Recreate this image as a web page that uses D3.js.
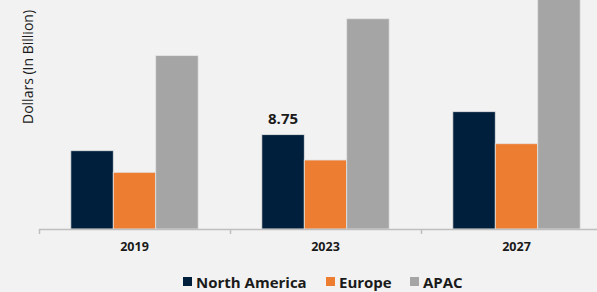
<!DOCTYPE html>
<html>
<head>
<meta charset="utf-8">
<script src="https://cdn.jsdelivr.net/npm/d3@7"></script>
<style>
  html, body { margin: 0; padding: 0; background: #f2f2f2; }
  svg { display: block; font-family: "Open Sans", sans-serif; }
</style>
</head>
<body>
<svg id="chart" width="597" height="292"></svg>
<script>
const years = ["2019", "2023", "2027"];
const regions = ["North America", "Europe", "APAC"];
const northAmerica = [7.26, 8.75, 10.88];
const europe = [5.26, 6.4, 7.91];
const apac = [16.08, 19.5, 23.0];
const colors = ["#001f3d", "#ed7d31", "#a5a5a5"];

const series = [northAmerica, europe, apac];
const data = years.map((y, i) => ({ year: y, values: series.map(s => s[i]) }));

const svg = d3.select("#chart");
const width = 597, height = 292;
const margin = { left: 39, right: -15, top: 0, bottom: 63 };
const baseY = height - margin.bottom; // 229

const x0 = d3.scaleBand()
    .domain(years)
    .range([margin.left, width - margin.right])
    .paddingInner(0)
    .paddingOuter(0);

const x1 = d3.scaleBand()
    .domain(regions)
    .range([0, x0.bandwidth()])
    .paddingOuter(0.75)
    .paddingInner(0);

const y = d3.scaleLinear()
    .domain([0, 21.24])
    .range([baseY, 0]);

// bars
const groups = svg.selectAll(".year-group")
    .data(data)
    .enter()
    .append("g")
    .attr("class", "year-group")
    .attr("transform", d => `translate(${x0(d.year)},0)`);

groups.selectAll("rect")
    .data(d => d.values.map((v, i) => ({ region: regions[i], value: v, idx: i })))
    .enter()
    .append("rect")
    .attr("x", d => x1(d.region))
    .attr("y", d => y(d.value))
    .attr("width", x1.bandwidth())
    .attr("height", d => baseY - y(d.value))
    .attr("fill", d => colors[d.idx])
    .attr("stroke", "#e4e4e4")
    .attr("stroke-width", 0.8);

// x axis line and ticks
const axis = svg.append("g").attr("transform", `translate(0,${baseY})`);
axis.append("line")
    .attr("x1", margin.left).attr("x2", width)
    .attr("y1", 0.5).attr("y2", 0.5)
    .attr("stroke", "#bfbfbf").attr("stroke-width", 1.5);
axis.selectAll(".tick")
    .data(years)
    .enter()
    .append("line")
    .attr("x1", d => Math.round(x0(d)) + 0.5)
    .attr("x2", d => Math.round(x0(d)) + 0.5)
    .attr("y1", 0).attr("y2", 5)
    .attr("stroke", "#bfbfbf").attr("stroke-width", 1.5);
axis.selectAll(".tick-label")
    .data(years)
    .enter()
    .append("text")
    .attr("x", d => x0(d) + x0.bandwidth() / 2)
    .attr("y", 22)
    .attr("text-anchor", "middle")
    .attr("font-size", "12.5px")
    .attr("font-weight", "bold")
    .attr("fill", "#1a1a1a")
    .text(d => d);

// value label on North America 2023
svg.append("text")
    .attr("x", x0("2023") + x1("North America") + x1.bandwidth() / 2)
    .attr("y", y(northAmerica[1]) - 11)
    .attr("text-anchor", "middle")
    .attr("font-size", "15px")
    .attr("font-weight", "bold")
    .attr("fill", "#1a1a1a")
    .text(northAmerica[1]);

// y axis title
svg.append("text")
    .attr("transform", "translate(33,67) rotate(-90)")
    .attr("text-anchor", "middle")
    .attr("font-size", "14px")
    .attr("fill", "#1a1a1a")
    .text("Dollars (In Billion)");

// legend
const legendX = [183, 326, 410];
const legend = svg.append("g").attr("transform", "translate(0,282)");
regions.forEach((r, i) => {
    legend.append("rect")
        .attr("x", legendX[i]).attr("y", -5)
        .attr("width", 9).attr("height", 9)
        .attr("fill", colors[i]);
    legend.append("text")
        .attr("x", legendX[i] + 13).attr("y", 5.5)
        .attr("font-size", "15px")
        .attr("font-weight", "bold")
        .attr("fill", "#1a1a1a")
        .text(r);
});
</script>
</body>
</html>
